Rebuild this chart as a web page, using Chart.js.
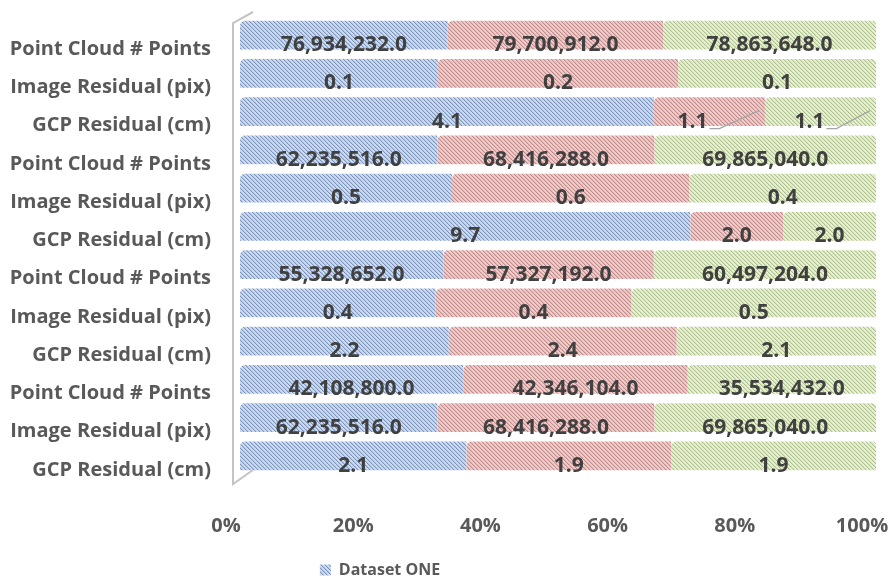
<!DOCTYPE html>
<html>
<head>
<meta charset="utf-8">
<script src="https://cdn.jsdelivr.net/npm/chart.js@4/dist/chart.umd.min.js"></script>
<style>
  html, body { margin: 0; padding: 0; background: #ffffff; }
  #wrap { width: 888px; height: 577px; }
</style>
</head>
<body>
<div id="wrap"><canvas id="chart" width="888" height="577"></canvas></div>
<script>
// Row labels, top to bottom
const categories = [
  'Point Cloud # Points', 'Image Residual (pix)', 'GCP Residual (cm)',
  'Point Cloud # Points', 'Image Residual (pix)', 'GCP Residual (cm)',
  'Point Cloud # Points', 'Image Residual (pix)', 'GCP Residual (cm)',
  'Point Cloud # Points', 'Image Residual (pix)', 'GCP Residual (cm)'
];

// Series values per row (labels show one decimal)
const seriesOne = [76934232, 0.14, 4.1, 62235516, 0.50, 9.7, 55328652, 0.4, 2.2, 42108800, 62235516, 2.1];
const seriesTwo = [79700912, 0.17, 1.1, 68416288, 0.56, 2.0, 57327192, 0.4, 2.4, 42346104, 68416288, 1.9];
const seriesThree = [78863648, 0.14, 1.1, 69865040, 0.44, 2.0, 60497204, 0.5, 2.1, 35534432, 69865040, 1.9];

const seriesNames = ['Dataset ONE', 'Dataset TWO', 'Dataset THREE'];

// Percent axis ticks
const percentTicks = [0, 20, 40, 60, 80, 100];

const FONT = '"Open Sans", Lato, "DejaVu Sans", sans-serif';

// Diagonal hatch fill
function hatch(bg, line, mid) {
  const c = document.createElement('canvas');
  c.width = 4; c.height = 4;
  const g = c.getContext('2d');
  g.fillStyle = bg; g.fillRect(0, 0, 4, 4);
  for (let i = 0; i < 4; i++) {
    g.fillStyle = line; g.fillRect(i, i, 1, 1);
    g.fillStyle = mid; g.fillRect((i + 1) % 4, i, 1, 1);
  }
  return g.createPattern(c, 'repeat');
}

const fills = [
  hatch('#c9dcf3', '#8093b8', '#b3c6e3'),
  hatch('#f6c9c9', '#bb8e8e', '#e4b6b6'),
  hatch('#e6f1cf', '#b0bf92', '#d6e2bd')
];

const raw = [seriesOne, seriesTwo, seriesThree];
const rowTotals = categories.map((_, i) => raw.reduce((s, arr) => s + arr[i], 0));

const datasets = raw.map((arr, k) => ({
  label: seriesNames[k],
  data: arr.map((v, i) => v / rowTotals[i] * 100),
  rawValues: arr,
  backgroundColor: fills[k],
  borderWidth: 0,
  borderSkipped: false,
  borderRadius: { topLeft: 5, topRight: k === 2 ? 4 : 0, bottomLeft: 0, bottomRight: 0 },
  barPercentage: 0.75,
  categoryPercentage: 1.0
}));

function fmt(v) {
  return v.toLocaleString('en-US', { minimumFractionDigits: 1, maximumFractionDigits: 1 });
}

// Side wall of the plot
const wallPlugin = {
  id: 'wall',
  beforeDatasetsDraw(chart) {
    const { ctx, chartArea } = chart;
    const fx = chartArea.left - 7, bx = chartArea.left + 13;
    ctx.save();
    ctx.strokeStyle = '#c4c4c4';
    ctx.lineWidth = 2;
    ctx.beginPath();
    ctx.moveTo(bx, chartArea.top - 4);
    ctx.lineTo(fx, chartArea.top + 7);
    ctx.lineTo(fx, chartArea.bottom + 9);
    ctx.lineTo(bx, chartArea.bottom - 5);
    ctx.stroke();
    ctx.restore();
  }
};

// Legend sits left of centre, close to the bottom edge
const legendPlace = {
  id: 'legendPlace',
  afterLayout(chart) {
    const lg = chart.legend;
    if (lg) {
      lg.left = 0; lg.right = 760;
      lg.top += 11; lg.bottom += 11;
    }
  }
};

// Value labels in each segment
const leaderRows = { 2: true };
const valueLabels = {
  id: 'valueLabels',
  afterDatasetsDraw(chart) {
    const { ctx } = chart;
    ctx.save();
    ctx.font = 'bold 21px ' + FONT;
    ctx.fillStyle = '#404040';
    ctx.textAlign = 'center';
    ctx.textBaseline = 'middle';
    chart.data.datasets.forEach((ds, k) => {
      const meta = chart.getDatasetMeta(k);
      meta.data.forEach((bar, i) => {
        let cx = (bar.x + bar.base) / 2;
        const cy = bar.y + 10;
        const txt = fmt(ds.rawValues[i]);
        if (leaderRows[i] && k > 0) {
          const shift = k === 1 ? -17 : -11;
          cx += shift;
          const w = ctx.measureText(txt).width;
          ctx.save();
          ctx.strokeStyle = '#a6a6a6';
          ctx.lineWidth = 1.2;
          ctx.beginPath();
          ctx.moveTo(cx + w / 2 + 2, cy + 7);
          ctx.lineTo(cx + w / 2 + 12, cy + 7);
          ctx.lineTo(bar.x - 6, bar.y - 1);
          ctx.stroke();
          ctx.restore();
        }
        ctx.fillText(txt, cx, cy);
      });
    });
    ctx.restore();
  }
};

new Chart(document.getElementById('chart'), {
  type: 'bar',
  data: { labels: categories, datasets },
  options: {
    indexAxis: 'y',
    responsive: false,
    animation: false,
    devicePixelRatio: 1,
    layout: { padding: { top: 16, right: 12, left: 0, bottom: 0 } },
    scales: {
      x: {
        stacked: true,
        min: 0,
        max: 100,
        afterBuildTicks(scale) { scale.ticks = percentTicks.map(v => ({ value: v })); },
        afterFit(scale) {
          scale.height = 76;
          scale.paddingLeft = 0; scale.paddingRight = 0;
        },
        grid: { display: false, drawTicks: false },
        border: { display: false },
        ticks: {
          callback: v => v + '%',
          color: '#595959',
          font: { family: FONT, size: 20, weight: 'bold' },
          padding: 39,
          labelOffset: -14,
          maxRotation: 0
        }
      },
      y: {
        stacked: true,
        afterFit(scale) {
          scale.width = 240;
          scale.paddingTop = 0; scale.paddingBottom = 0;
        },
        grid: { display: false, drawTicks: false },
        border: { display: false },
        ticks: {
          color: '#595959',
          font: { family: FONT, size: 20, weight: 'bold' },
          padding: 29,
          labelOffset: 14,
          autoSkip: false
        }
      }
    },
    plugins: {
      legend: {
        position: 'bottom',
        labels: {
          filter: item => item.datasetIndex === 0,
          boxWidth: 11,
          boxHeight: 11,
          color: '#595959',
          font: { family: FONT, size: 16, weight: 'bold' },
          padding: 0
        }
      },
      tooltip: { enabled: false }
    }
  },
  plugins: [wallPlugin, legendPlace, valueLabels]
});
</script>
</body>
</html>
